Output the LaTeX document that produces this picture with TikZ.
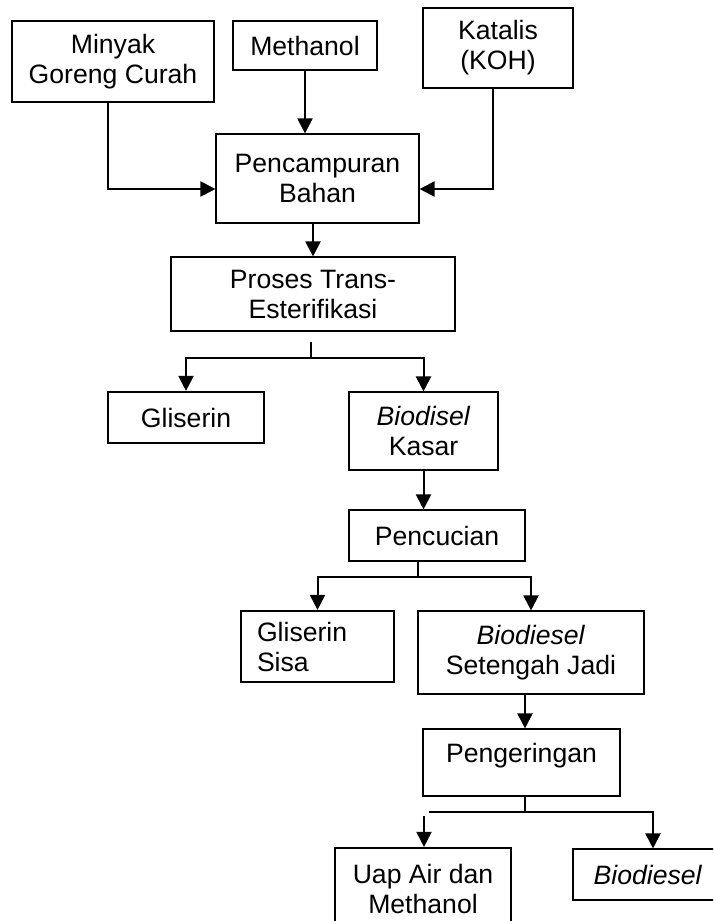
\documentclass[tikz,border=0pt]{standalone}
\usepackage{fontspec}
\setmainfont{Liberation Sans}
\usetikzlibrary{arrows.meta}

\begin{document}
\begin{tikzpicture}[x=0.5pt,y=-0.5pt,
    box/.style={draw,line width=0.55pt,inner sep=0pt,align=center,font=\fontsize{13.3}{15}\selectfont},
    thickbox/.style={box,line width=1.1pt},
    arr/.style={line width=1pt,-{Triangle[length=7.5pt,width=7.5pt]}},
    line/.style={line width=1pt}]
  \clip (0,0) rectangle (713,921);
  % input boxes
  \node[box,minimum width=101pt,minimum height=40.5pt] (minyak) at (113,61.5) {Minyak\\Goreng Curah};
  \node[box,minimum width=72pt,minimum height=24.5pt] (methanol) at (305,45.5) {Methanol};
  \node[box,minimum width=75pt,minimum height=40pt] (katalis) at (498,48) {Katalis\\(KOH)};
  % process boxes
  \node[box,minimum width=101.5pt,minimum height=44.5pt] (campur) at (317.5,178.5) {Pencampuran\\Bahan};
  \node[box,minimum width=142pt,minimum height=37pt] (proses) at (313,294) {Proses Trans-\\Esterifikasi};
  \node[thickbox,minimum width=78pt,minimum height=25.5pt] (gliserin) at (186,417.5) {Gliserin};
  \node[box,minimum width=74.5pt,minimum height=39pt] (kasar) at (423.5,431) {\textit{Biodisel}\\Kasar};
  \node[box,minimum width=88pt,minimum height=25.5pt] (cuci) at (437,535.5) {Pencucian};
  \node[thickbox,minimum width=76.5pt,minimum height=35.5pt,text width=60.5pt,align=left] (sisa) at (317.5,646.5) {Gliserin\\Sisa};
  \node[box,minimum width=113pt,minimum height=41.5pt] (setengah) at (531,652.5) {\textit{Biodiesel}\\Setengah Jadi};
  \node[box,minimum width=98.5pt,minimum height=33.5pt,text depth=10pt] (kering) at (521.5,762.5) {Pengeringan};
  \node[thickbox,minimum width=88pt,minimum height=41pt] (uap) at (423,889) {Uap Air dan\\Methanol};
  \node[box,minimum width=75pt,minimum height=25.5pt] (akhir) at (648,874.5) {\textit{Biodiesel}};
  % branch points
  \coordinate (stem1) at (311,342);
  \coordinate (split1) at (311,358);
  \coordinate (split2) at (418,577);
  \coordinate (split3) at (525,812);
  \coordinate (gap3) at (429,812);
  \coordinate (drop3) at (424,816);
  % arrows into mixing
  \draw[arr] ([xshift=-2.5pt]minyak.south) |- ([yshift=-5.25pt]campur.west);
  \draw[arr] (methanol.south) -- (methanol.south |- campur.north);
  \draw[arr] ([xshift=-2.5pt]katalis.south) |- ([yshift=-5.25pt]campur.east);
  \draw[arr] (campur.south -| proses.north) -- (proses.north);
  % first split
  \draw[line] (stem1) -- (split1);
  \draw[arr] (split1) -| (gliserin.north);
  \draw[arr] (split1) -| (kasar.north);
  \draw[arr] (kasar.south) -- (kasar.south |- cuci.north);
  % second split
  \draw[line] (split2 |- cuci.south) -- (split2);
  \draw[arr] (split2) -| (sisa.north);
  \draw[arr] (split2) -| (setengah.north);
  \draw[arr] (split3 |- setengah.south) -- (split3 |- kering.north);
  % third split
  \draw[line] (split3 |- kering.south) -- (split3);
  \draw[arr] (gap3) -- (split3) -| ([xshift=2.5pt]akhir.north);
  \draw[arr] (drop3) -- (drop3 |- uap.north);
\end{tikzpicture}
\end{document}
